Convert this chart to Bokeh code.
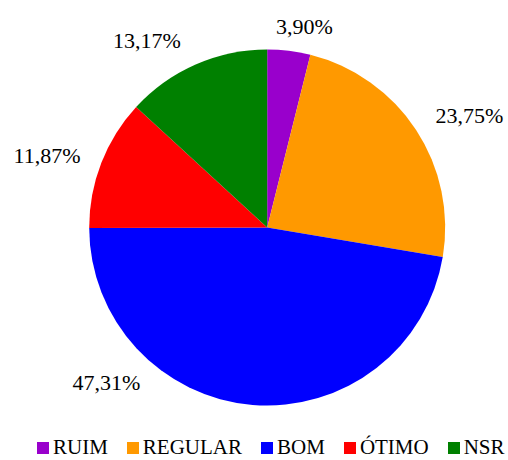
import math
from bokeh.plotting import figure
from bokeh.models import ColumnDataSource, Range1d, LabelSet
from bokeh.embed import file_html
from bokeh.resources import INLINE

# ---- data ----
categories = ["RUIM", "REGULAR", "BOM", "ÓTIMO", "NSR"]
percentages = [3.90, 23.75, 47.31, 11.87, 13.17]
labels = ["3,90%", "23,75%", "47,31%", "11,87%", "13,17%"]
colors = ["#9900CC", "#FF9900", "#0000FF", "#FF0000", "#008000"]

# ---- layout (pixel-like data units) ----
W, H = 508, 460
CX, CY, R = 266.7, 233.0, 178.0
label_angle_deg = [10.5, 61.0, 226.0, 288.1, 327.2]   # clockwise from 12 o'clock
label_radius = [204.4, 231.2, 223.6, 231.7, 221.9]
FONT = "Liberation Serif"

total = sum(percentages)
starts, ends = [], []
cum = 0.0
for v in percentages:
    a0 = math.pi / 2 - 2 * math.pi * (cum + v) / total
    a1 = math.pi / 2 - 2 * math.pi * cum / total
    starts.append(a0)
    ends.append(a1)
    cum += v

lx = [CX + r * math.sin(math.radians(a)) for a, r in zip(label_angle_deg, label_radius)]
ly = [CY + r * math.cos(math.radians(a)) for a, r in zip(label_angle_deg, label_radius)]

src = ColumnDataSource(dict(cat=categories, val=percentages, start=starts, end=ends,
                            color=colors, label=labels, lx=lx, ly=ly))

p = figure(width=W, height=H, output_backend="svg", toolbar_location=None,
           x_range=Range1d(0, W), y_range=Range1d(0, H), min_border=0)
p.axis.visible = False
p.grid.visible = False
p.outline_line_color = None
p.background_fill_color = "white"
p.border_fill_color = "white"

p.wedge(x=CX, y=CY, radius=R, start_angle="start", end_angle="end",
        fill_color="color", line_color=None, legend_field="cat", source=src)

p.add_layout(LabelSet(x="lx", y="ly", text="label", source=src, text_font=FONT,
                      text_font_size="22px", text_align="center", text_baseline="middle",
                      text_color="black"))

lg = p.legend[0]
lg.orientation = "horizontal"
lg.location = (35, 0)
lg.margin = 0
lg.padding = 0
lg.spacing = 17
lg.glyph_width = 15
lg.glyph_height = 15
lg.label_standoff = 3
lg.label_text_font = FONT
lg.label_text_font_size = "21px"
lg.label_text_color = "black"
lg.border_line_color = None
lg.background_fill_alpha = 0

open("out.html", "w").write(file_html(p, INLINE))
